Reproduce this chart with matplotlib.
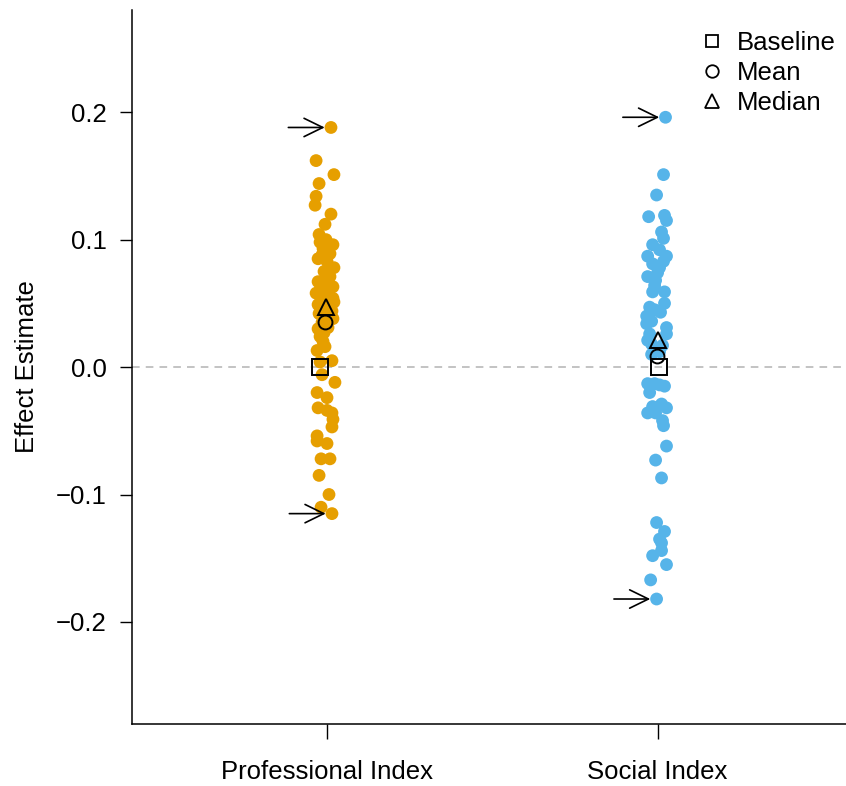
import matplotlib.pyplot as plt
from matplotlib.lines import Line2D

plt.rcParams['font.family'] = ['Liberation Sans', 'DejaVu Sans']

groups = ["Professional Index", "Social Index"]
colors = ["#E69F00", "#56B4E9"]

# effect estimates per specification, with the stripchart jitter
prof_vals = [0.188, 0.162, 0.151, 0.144, 0.134, 0.127, 0.120, 0.112, 0.104, 0.100,
             0.096, 0.093, 0.088, 0.089, 0.083, 0.078, 0.075, 0.071, 0.067, 0.065,
             0.063, 0.060, 0.058, 0.056, 0.054, 0.052, 0.049, 0.051, 0.047, 0.044,
             0.042, 0.038, 0.035, 0.031, 0.027, 0.024, 0.020, 0.013, 0.005, 0.004,
             -0.006, -0.012, -0.020, -0.024, -0.032, -0.034, -0.036, -0.041, -0.047, -0.054,
             -0.058, -0.060, -0.072, -0.072, -0.085, -0.100, -0.110, -0.115,
             0.070, 0.085, 0.057, 0.045, 0.039, 0.030, 0.062, 0.016, 0.098]
prof_jit = [0.012, -0.033, 0.021, -0.024, -0.033, -0.036, 0.012, -0.006, -0.024, -0.003,
            0.018, -0.012, -0.015, 0.009, 0.000, 0.021, -0.009, 0.009, -0.027, -0.003,
            0.018, -0.021, -0.033, 0.006, 0.018, -0.015, -0.027, 0.021, -0.003, 0.015,
            -0.024, 0.018, -0.015, 0.003, -0.009, -0.021, -0.012, -0.030, 0.015, -0.021,
            -0.015, 0.024, -0.030, 0.000, -0.027, 0.000, 0.015, 0.018, 0.015, -0.030,
            -0.030, 0.000, -0.018, 0.009, -0.024, 0.006, -0.018, 0.015,
            0.003, -0.027, -0.006, -0.015, 0.006, -0.027, -0.015, -0.006, -0.021]

soc_vals = [0.196, 0.151, 0.135, 0.118, 0.119, 0.115, 0.106, 0.101, 0.096, 0.087,
            0.087, 0.081, 0.083, 0.074, 0.071, 0.068, 0.059, 0.059, 0.050, 0.047,
            0.043, 0.040, 0.034, 0.031, 0.026, 0.026, 0.018, 0.017, 0.010, -0.013,
            -0.013, -0.015, -0.014, -0.036, -0.031, -0.029, -0.032, -0.042, -0.046, -0.062,
            -0.073, -0.087, -0.122, -0.129, -0.135, -0.138, -0.144, -0.148, -0.155, -0.167,
            -0.182, 0.064, 0.036, 0.021, 0.045, 0.078, 0.012, 0.092, -0.020, -0.036]
soc_jit = [0.024, 0.018, -0.003, -0.027, 0.021, 0.027, 0.012, 0.018, -0.015, -0.030,
           0.027, -0.015, 0.018, 0.000, -0.030, -0.006, -0.015, 0.021, 0.021, -0.024,
           0.009, -0.033, -0.033, 0.027, -0.024, 0.027, -0.018, 0.015, -0.018, -0.030,
           -0.009, 0.021, 0.006, -0.030, -0.015, 0.012, 0.027, 0.015, 0.018, 0.027,
           -0.006, 0.012, -0.003, 0.021, 0.006, 0.012, 0.012, -0.015, 0.027, -0.021,
           -0.003, -0.009, -0.018, -0.030, -0.009, 0.006, 0.006, 0.006, -0.024, -0.006]

# summary markers: value and horizontal offset
baseline = [0.0, 0.0]
baseline_jit = [-0.021, 0.003]
means = [0.035, 0.009]
means_jit = [-0.006, -0.003]
medians = [0.047, 0.021]
medians_jit = [-0.003, 0.000]

fig = plt.figure(figsize=(8.46, 7.86), dpi=100)
ax = fig.add_axes([0.156, 0.079, 0.844, 0.908])

ax.axhline(0, color="#b3b3b3", lw=1.1, ls=(0, (5, 4)), zorder=0)

for i, (vals, jit) in enumerate([(prof_vals, prof_jit), (soc_vals, soc_jit)]):
    xpos = i + 1
    xs = [xpos + j for j in jit]
    ax.scatter(xs, vals, s=85, color=colors[i], edgecolors="none", zorder=2)

    # arrows pointing at the extreme estimates
    for k in (vals.index(max(vals)), vals.index(min(vals))):
        tip = xs[k] - 0.019
        ax.annotate("", xy=(tip, vals[k]), xytext=(tip - 0.11, vals[k]),
                    arrowprops=dict(arrowstyle="->,head_length=0.45,head_width=0.22",
                                    color="black", lw=1.2,
                                    mutation_scale=30, shrinkA=0, shrinkB=0),
                    zorder=3)

    ax.plot(xpos + baseline_jit[i], baseline[i], marker="s", ms=11, mfc="none",
            mec="black", mew=1.4, ls="none", zorder=4)
    ax.plot(xpos + means_jit[i], means[i], marker="o", ms=10, mfc="none",
            mec="black", mew=1.4, ls="none", zorder=4)
    ax.plot(xpos + medians_jit[i], medians[i], marker="^", ms=12, mfc="none",
            mec="black", mew=1.4, ls="none", zorder=4)

ax.set_xlim(0.41, 2.57)
ax.set_ylim(-0.28, 0.28)

ax.set_xticks([1, 2])
ax.set_xticklabels(groups)
ax.set_yticks([-0.2, -0.1, 0.0, 0.1, 0.2])
ax.set_yticklabels(["\u22120.2", "\u22120.1", "0.0", "0.1", "0.2"])
ax.tick_params(axis="x", length=11, width=1, pad=15, labelsize=18.5)
ax.tick_params(axis="y", length=9, width=1, pad=9, labelsize=18.5)
ax.set_ylabel("Effect Estimate", fontsize=18.5, labelpad=12)

for side in ("top", "right"):
    ax.spines[side].set_visible(False)
for side in ("left", "bottom"):
    ax.spines[side].set_linewidth(1.1)

handles = [
    Line2D([], [], marker="s", ms=9, mfc="none", mec="black", mew=1.3, ls="none"),
    Line2D([], [], marker="o", ms=9, mfc="none", mec="black", mew=1.3, ls="none"),
    Line2D([], [], marker="^", ms=10, mfc="none", mec="black", mew=1.3, ls="none"),
]
ax.legend(handles, ["Baseline", "Mean", "Median"], loc="upper right",
          bbox_to_anchor=(1.007, 0.992), frameon=False, fontsize=18.5,
          handlelength=1.0, handletextpad=0.45, labelspacing=0.22,
          borderaxespad=0.2)

fig.savefig("out.png", dpi=100)
